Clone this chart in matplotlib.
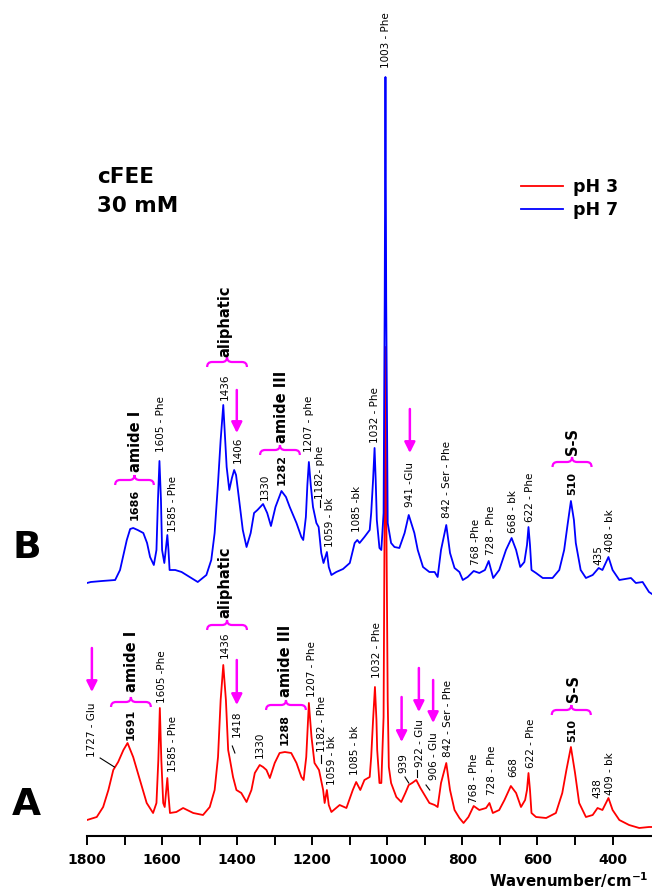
import matplotlib
matplotlib.use("Agg")
import matplotlib.pyplot as plt
from matplotlib.path import Path
from matplotlib.patches import PathPatch

# Raman spectra (wavenumber / cm-1, intensity a.u.)
wn_b = [1800, 1790, 1760, 1725, 1712, 1700, 1694, 1685, 1677, 1665, 1650, 1640, 1632, 1622,
        1615, 1611, 1607, 1603, 1600, 1594, 1589, 1586, 1583, 1580, 1565, 1548, 1522, 1505,
        1482, 1469, 1460, 1451, 1444, 1437, 1432, 1428, 1421, 1414, 1408, 1403, 1398, 1385,
        1375, 1364, 1355, 1346, 1331, 1320, 1310, 1298, 1282, 1270, 1260, 1242, 1229, 1224,
        1217, 1213, 1209, 1204, 1198, 1189, 1183, 1176, 1170, 1161, 1156, 1149, 1136, 1118,
        1100, 1087, 1080, 1074, 1061, 1047, 1043, 1038, 1034, 1031, 1028, 1021, 1016, 1010,
        1007, 1005, 1003, 999, 990, 981, 968, 954, 943, 928, 919, 905, 888, 874, 866, 857,
        843, 833, 821, 808, 799, 786, 770, 755, 740, 730, 718, 702, 684, 669, 657, 646, 635,
        628, 624, 620, 616, 604, 586, 560, 542, 529, 520, 511, 503, 498, 485, 471, 453, 437,
        427, 411, 400, 382, 351, 338, 320, 303, 295]
int_b = [13, 14, 15, 16, 26, 46, 56, 67, 68, 66, 63, 53, 39, 31,
         46, 96, 135, 96, 46, 33, 51, 61, 46, 26, 26, 24, 18, 14,
         21, 36, 63, 113, 156, 191, 156, 129, 106, 118, 126, 121, 106, 66,
         49, 63, 83, 86, 92, 83, 70, 89, 105, 99, 89, 73, 59, 56,
         79, 111, 134, 111, 89, 73, 69, 43, 33, 44, 29, 21, 24, 27,
         33, 53, 56, 53, 59, 66, 83, 116, 148, 116, 76, 48, 46, 83,
         296, 519, 296, 73, 53, 49, 48, 63, 81, 63, 46, 29, 24, 24, 19, 46,
         71, 43, 28, 24, 16, 19, 25, 23, 26, 35, 18, 26, 46, 58, 46, 29, 34,
         51, 69, 51, 26, 23, 18, 18, 26, 46, 71, 95, 76, 53, 26, 18, 21, 28,
         26, 39, 26, 16, 18, 13, 14, 4, 2]

wn_a = [1800, 1774, 1757, 1743, 1730, 1717, 1703, 1692, 1677, 1659, 1641, 1624, 1615, 1610,
        1606, 1602, 1597, 1593, 1589, 1586, 1583, 1579, 1562, 1544, 1517, 1491, 1473, 1460,
        1451, 1444, 1437, 1430, 1424, 1420, 1411, 1402, 1389, 1375, 1362, 1353, 1340, 1331,
        1322, 1313, 1300, 1287, 1273, 1256, 1242, 1229, 1223, 1216, 1209, 1202, 1194, 1182,
        1171, 1167, 1161, 1156, 1149, 1127, 1109, 1092, 1083, 1072, 1061, 1047, 1043, 1038,
        1033, 1029, 1027, 1021, 1016, 1010, 1007, 1005, 1003, 999, 996, 990, 976, 963, 952,
        943, 934, 923, 912, 904, 888, 874, 866, 857, 843, 833, 821, 808, 797, 784, 770, 755,
        737, 728, 719, 702, 688, 671, 657, 644, 633, 628, 624, 620, 616, 604, 577, 551, 534,
        523, 511, 500, 489, 471, 453, 440, 427, 411, 400, 382, 356, 329, 303, 295]
int_a = [16, 19, 29, 46, 66, 74, 86, 93, 79, 56, 33, 23, 33, 76,
         128, 76, 33, 29, 46, 58, 41, 23, 24, 28, 23, 21, 29, 46,
         79, 136, 171, 136, 86, 78, 59, 46, 43, 34, 46, 63, 71, 69,
         66, 58, 73, 83, 84, 83, 73, 59, 56, 79, 133, 99, 73, 66,
         46, 33, 46, 31, 24, 31, 28, 46, 54, 46, 56, 59, 79, 116,
         149, 116, 86, 53, 53, 119, 336, 489, 336, 136, 69, 53, 39, 34, 43,
         51, 53, 56, 48, 43, 33, 31, 29, 53, 73, 46, 26, 18, 13, 19, 30, 26,
         28, 33, 23, 26, 36, 50, 43, 29, 36, 46, 63, 46, 23, 19, 18, 23, 43,
         66, 89, 63, 33, 19, 21, 28, 26, 38, 26, 16, 11, 8, 9, 9]

offset_b = 240

# peak labels: (wavenumber, height, text, bold)
labels_b = [(1672, 316, "1686", True), (1604, 384, "1605 - Phe", False),
            (1570, 304, "1585 - Phe", False), (1432, 436, "1436", False),
            (1397, 373, "1406", False), (1326, 336, "1330", False),
            (1281, 351, "1282", True), (1208, 384, "1207 - phe", False),
            (1179, 337, "1182- phe", False), (1153, 289, "1059 - bk", False),
            (1082, 304, "1085 -bk", False), (1032, 393, "1032 - Phe", False),
            (1004, 768, "1003 - Phe", False), (940, 329, "941 -Glu", False),
            (842, 318, "842 - Ser - Phe", False), (764, 271, "768 -Phe", False),
            (725, 281, "728 - Phe", False), (666, 303, "668 - bk", False),
            (620, 314, "622 - Phe", False), (508, 341, "510", True),
            (438, 271, "435", False), (407, 284, "408 - bk", False)]
labels_a = [(1787, 79, "1727 - Glu", False), (1683, 96, "1691", True),
            (1599, 133, "1605 -Phe", False), (1572, 64, "1585 - Phe", False),
            (1432, 178, "1436", False), (1400, 99, "1418", False),
            (1339, 78, "1330", False), (1273, 91, "1288", True),
            (1201, 139, "1207 - Phe", False), (1175, 84, "1182 - Phe", False),
            (1148, 51, "1059 - bk", False), (1086, 61, "1085 - bk", False),
            (1028, 158, "1032 - Phe", False), (957, 63, "939", False),
            (913, 69, "922 - Glu", False), (876, 56, "906 - Glu", False),
            (838, 79, "842 - Ser - Phe", False), (769, 33, "768 - Phe", False),
            (722, 41, "728 - Phe", False), (665, 59, "668", False),
            (618, 68, "622 - Phe", False), (507, 94, "510", True),
            (441, 38, "438", False), (407, 41, "409 - bk", False)]
leaders = [((1765, 78), (1727, 69)), ((1413, 90), (1406, 83)), ((1178, 81), (1178, 73)),
           ((953, 59), (943, 53)), ((920, 66), (920, 59)), ((897, 51), (887, 46)),
           ((1180, 336), (1180, 329))]

# band groups: (text, x of text, text bottom, brace from, brace to, brace height)
groups = [("amide I", 1672, 364, 1725, 1622, 356), ("aliphatic", 1432, 479, 1480, 1374, 474),
          ("amide III", 1281, 393, 1339, 1233, 386), ("S-S", 508, 381, 560, 456, 374),
          ("amide I", 1681, 144, 1736, 1630, 134), ("aliphatic", 1432, 218, 1480, 1374, 211),
          ("amide III", 1270, 139, 1323, 1217, 131), ("S-S", 505, 134, 562, 458, 126)]
# magenta arrows: (wavenumber, from, to)
arrows = [(1401, 446, 403), (940, 427, 383), (1787, 188, 144), (1401, 176, 131),
          (962, 139, 94), (916, 168, 124), (878, 156, 113)]

MAG = "#FF00FF"
PX = 200 / 75.1  # wavenumber units per pixel


def brace(ax, x0, x1, y, h=5):
    L = (x0 - x1) / PX
    uv = [(0, -h), (0, 0), (h, 0), (L / 2 - h, 0), (L / 2, 0), (L / 2, h),
          (L / 2, 0), (L / 2 + h, 0), (L - h, 0), (L, 0), (L, -h)]
    codes = [Path.MOVETO, Path.CURVE3, Path.CURVE3, Path.LINETO, Path.CURVE3, Path.CURVE3,
             Path.CURVE3, Path.CURVE3, Path.LINETO, Path.CURVE3, Path.CURVE3]
    verts = [(x0 - u * PX, y + v) for u, v in uv]
    ax.add_patch(PathPatch(Path(verts, codes), fill=False, edgecolor=MAG, lw=1.6))


fig = plt.figure(figsize=(6.52, 8.92), dpi=100)
ax = fig.add_axes([87 / 652, 56 / 892, 1 - 87 / 652, 836 / 892])

line_a, = ax.plot(wn_a, int_a, color="#FF0000", lw=1.3)
line_b, = ax.plot(wn_b, [v + offset_b for v in int_b], color="#0000FF", lw=1.3)

for x, y, s, b in labels_b:
    ax.text(x, y, s, rotation=90, ha="center", va="bottom", fontsize=8 if b else 7.5,
            fontweight="bold" if b else "normal")
for x, y, s, b in labels_a:
    ax.text(x, y, s, rotation=90, ha="center", va="bottom", fontsize=8 if b else 7.5,
            fontweight="bold" if b else "normal")
for (x0, y0), (x1, y1) in leaders:
    ax.plot([x0, x1], [y0, y1], color="black", lw=0.8)

for s, xt, yt, b0, b1, yb in groups:
    ax.text(xt, yt, s, rotation=90, ha="center", va="bottom", fontsize=10.5, fontweight="bold")
    brace(ax, b0, b1, yb)

for x, y0, y1 in arrows:
    ax.annotate("", xy=(x, y1), xytext=(x, y0),
                arrowprops=dict(arrowstyle="-|>", color=MAG, lw=1.8, mutation_scale=16,
                                shrinkA=0, shrinkB=0))

ax.set_xlim(1800, 295)
ax.set_ylim(0, 836)
ax.set_xticks(range(1800, 300, -200))
ax.set_xticks(range(1700, 400, -200), minor=True)
ax.set_yticks([])
for side in ["left", "right", "top"]:
    ax.spines[side].set_visible(False)
ax.spines["bottom"].set_linewidth(1.5)
ax.tick_params(axis="x", which="both", direction="out", length=6.5, width=1.4, pad=6)
ax.tick_params(axis="x", labelsize=10)
for t in ax.get_xticklabels():
    t.set_fontweight("bold")

ax.legend([line_a, line_b], ["pH 3", "pH 7"], loc="upper left",
          bbox_to_anchor=(521 / 652, 1 - 178 / 892), bbox_transform=fig.transFigure,
          frameon=False, borderpad=0, borderaxespad=0, handlelength=2.4,
          handletextpad=0.6, labelspacing=0.3, prop=dict(weight="bold", size=12.5))

fig.text(97 / 652, 1 - 183 / 892, "cFEE", fontsize=15.5, fontweight="bold", va="baseline")
fig.text(97 / 652, 1 - 212 / 892, "30 mM", fontsize=15.5, fontweight="bold", va="baseline")
fig.text(12 / 652, 1 - 558 / 892, "B", fontsize=27, fontweight="bold", va="baseline")
fig.text(12 / 652, 1 - 815 / 892, "A", fontsize=27, fontweight="bold", va="baseline")
fig.text(648 / 652, 1 - 887 / 892, "Wavenumber/cm$^{\\mathbf{-1}}$", fontsize=10.8,
         fontweight="bold", ha="right", va="baseline")

fig.savefig("out.png", dpi=100)
